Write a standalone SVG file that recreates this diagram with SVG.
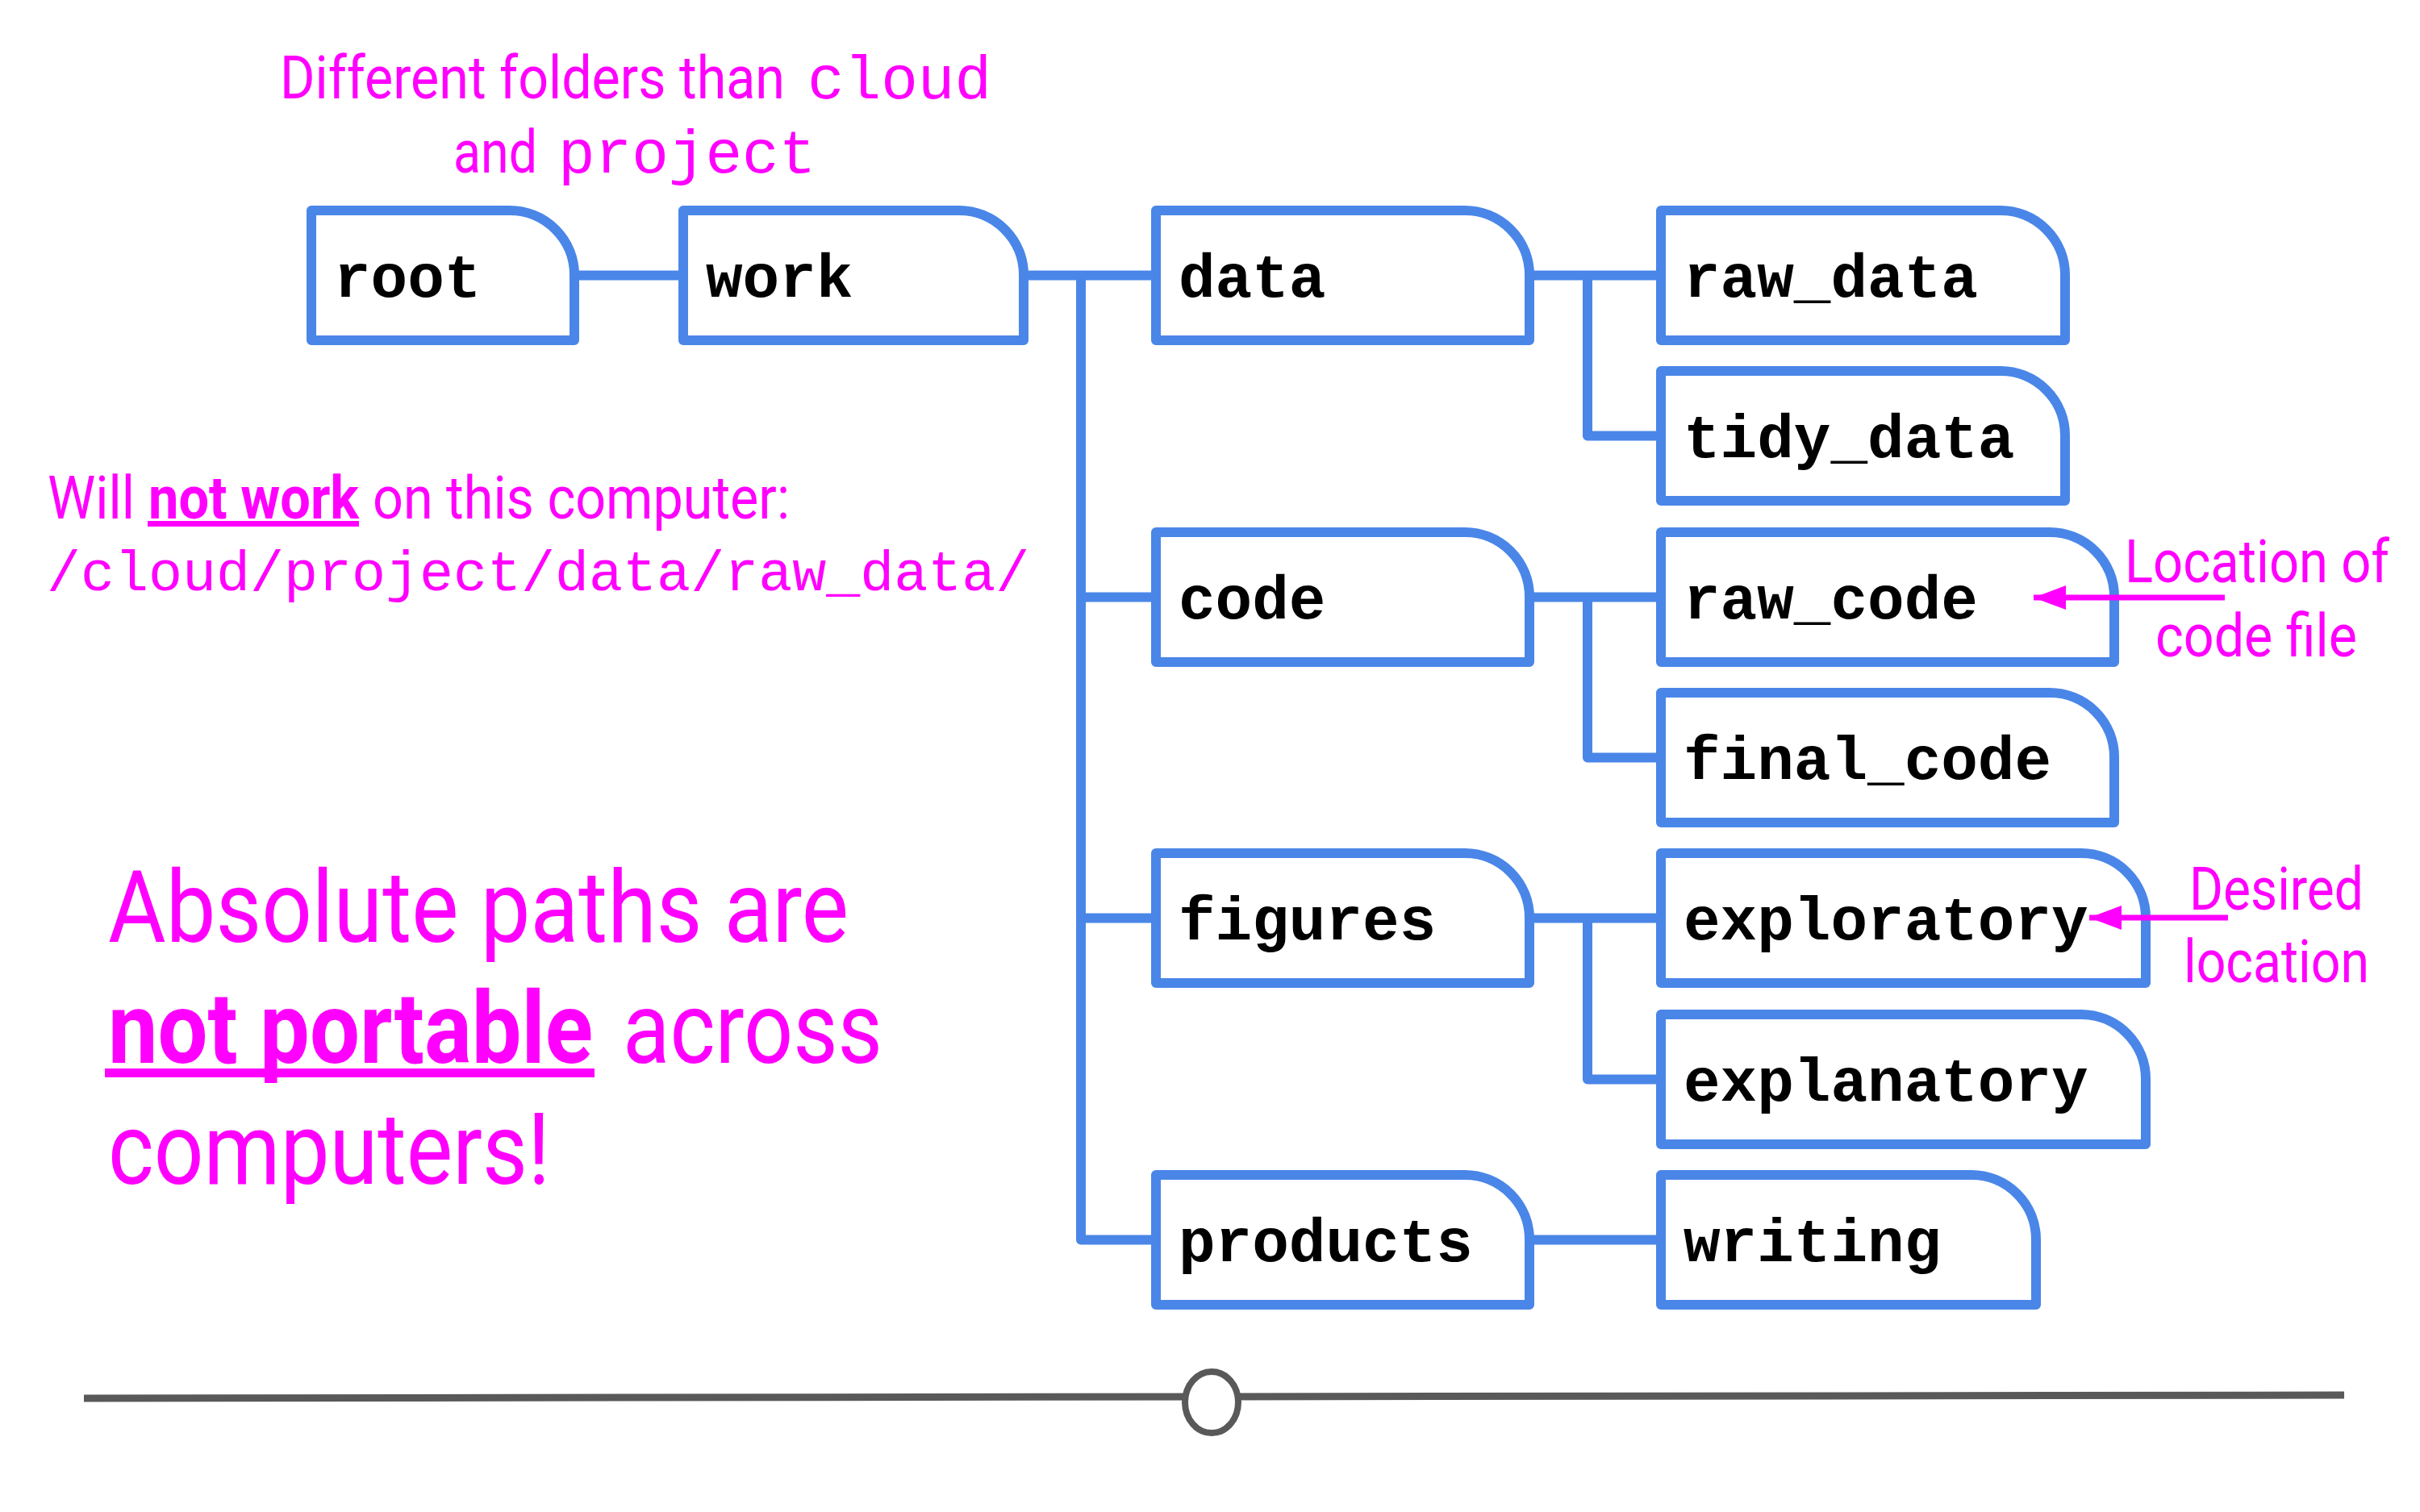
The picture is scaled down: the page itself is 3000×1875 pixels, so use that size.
<svg xmlns="http://www.w3.org/2000/svg" width="3000" height="1875" viewBox="0 0 3000 1875">
<style>
.box{fill:#fff;stroke:#4a86e8;stroke-width:12;stroke-linejoin:round}
.con{fill:none;stroke:#4a86e8;stroke-width:12;stroke-linejoin:round}
.lbl{font-family:"Liberation Mono","Courier New",monospace;font-weight:bold;font-size:76px;fill:#000}
.note{font-family:Roboto,"Liberation Sans",sans-serif;font-size:75px;fill:#ff00ff}
.nb{font-weight:bold}
.mono{font-family:"Liberation Mono","Courier New",monospace;fill:#ff00ff}
.big{font-size:125px}
.arr{stroke:#ff00ff;stroke-width:7;fill:none}
</style>
<defs>
<marker id="ah" markerUnits="userSpaceOnUse" viewBox="0 0 40 30" refX="40" refY="15" markerWidth="40" markerHeight="30" orient="auto">
<path d="M0,0 L40,15 L0,30 Z" fill="#ff00ff"/>
</marker>
</defs>
<rect width="3000" height="1875" fill="#fff"/>

<g id="connectors">
<path class="con" d="M712,341.5 H847"/>
<path class="con" d="M1269,341.5 H1433"/>
<path class="con" d="M1340,341.5 V1537.5 H1433"/>
<path class="con" d="M1340,740.5 H1433"/>
<path class="con" d="M1340,1138.5 H1433"/>
<path class="con" d="M1896,341.5 H2059"/>
<path class="con" d="M1968,341.5 V540.5 H2059"/>
<path class="con" d="M1896,740.5 H2059"/>
<path class="con" d="M1968,740.5 V939.5 H2059"/>
<path class="con" d="M1896,1138.5 H2059"/>
<path class="con" d="M1968,1138.5 V1338.5 H2059"/>
<path class="con" d="M1896,1537.5 H2059"/>
</g>

<g id="root"><path class="box" d="M386,261 H632 A80,80 0 0 1 712,341 V422 H386 Z"/><text class="lbl" x="414" y="368">root</text></g>
<g id="work"><path class="box" d="M847,261 H1189 A80,80 0 0 1 1269,341 V422 H847 Z"/><text class="lbl" x="875" y="368">work</text></g>
<g id="data"><path class="box" d="M1433,261 H1816 A80,80 0 0 1 1896,341 V422 H1433 Z"/><text class="lbl" x="1461" y="368">data</text></g>
<g id="raw_data"><path class="box" d="M2059,261 H2480 A80,80 0 0 1 2560,341 V422 H2059 Z"/><text class="lbl" x="2087" y="368">raw_data</text></g>
<g id="tidy_data"><path class="box" d="M2059,460 H2480 A80,80 0 0 1 2560,540 V621 H2059 Z"/><text class="lbl" x="2087" y="567">tidy_data</text></g>
<g id="code"><path class="box" d="M1433,660 H1816 A80,80 0 0 1 1896,740 V821 H1433 Z"/><text class="lbl" x="1461" y="767">code</text></g>
<g id="raw_code"><path class="box" d="M2059,660 H2541 A80,80 0 0 1 2621,740 V821 H2059 Z"/><text class="lbl" x="2087" y="767">raw_code</text></g>
<g id="final_code"><path class="box" d="M2059,859 H2541 A80,80 0 0 1 2621,939 V1020 H2059 Z"/><text class="lbl" x="2087" y="966">final_code</text></g>
<g id="figures"><path class="box" d="M1433,1058 H1816 A80,80 0 0 1 1896,1138 V1219 H1433 Z"/><text class="lbl" x="1461" y="1165">figures</text></g>
<g id="exploratory"><path class="box" d="M2059,1058 H2580 A80,80 0 0 1 2660,1138 V1219 H2059 Z"/><text class="lbl" x="2087" y="1165">exploratory</text></g>
<g id="explanatory"><path class="box" d="M2059,1258 H2580 A80,80 0 0 1 2660,1338 V1419 H2059 Z"/><text class="lbl" x="2087" y="1365">explanatory</text></g>
<g id="products"><path class="box" d="M1433,1457 H1816 A80,80 0 0 1 1896,1537 V1618 H1433 Z"/><text class="lbl" x="1461" y="1564">products</text></g>
<g id="writing"><path class="box" d="M2059,1457 H2444 A80,80 0 0 1 2524,1537 V1618 H2059 Z"/><text class="lbl" x="2087" y="1564">writing</text></g>

<g id="note-top">
<text class="note" x="347" y="122" textLength="626" lengthAdjust="spacingAndGlyphs">Different folders than</text>
<text class="mono" x="1001" y="122" font-size="76">cloud</text>
<text class="note" x="562" y="214" textLength="104" lengthAdjust="spacingAndGlyphs">and</text>
<text class="mono" x="692" y="214" font-size="76">project</text>
</g>

<g id="note-path">
<text class="note" x="59" y="643" textLength="108" lengthAdjust="spacingAndGlyphs">Will</text>
<text class="note nb" x="184" y="643" textLength="261" lengthAdjust="spacingAndGlyphs">not work</text>
<rect x="183" y="646" width="262" height="7" fill="#ff00ff"/>
<text class="note" x="462" y="643" textLength="517" lengthAdjust="spacingAndGlyphs">on this computer:</text>
<text class="mono" x="58" y="732" font-size="70">/cloud/project/data/raw_data/</text>
</g>

<g id="note-big">
<text class="note big" x="134" y="1168" textLength="918" lengthAdjust="spacingAndGlyphs">Absolute paths are</text>
<text class="note big nb" x="134" y="1318" textLength="601" lengthAdjust="spacingAndGlyphs">not portable</text>
<rect x="130" y="1325" width="607" height="11" fill="#ff00ff"/>
<text class="note big" x="772" y="1318" textLength="322" lengthAdjust="spacingAndGlyphs">across</text>
<text class="note big" x="134" y="1468" textLength="548" lengthAdjust="spacingAndGlyphs">computers!</text>
</g>

<g id="note-location">
<text class="note" x="2634" y="722" textLength="328" lengthAdjust="spacingAndGlyphs">Location of</text>
<text class="note" x="2672" y="814" textLength="250" lengthAdjust="spacingAndGlyphs">code file</text>
<path class="arr" d="M2758,741 H2521" marker-end="url(#ah)"/>
</g>

<g id="note-desired">
<text class="note" x="2714" y="1128" textLength="216" lengthAdjust="spacingAndGlyphs">Desired</text>
<text class="note" x="2707" y="1218" textLength="230" lengthAdjust="spacingAndGlyphs">location</text>
<path class="arr" d="M2762,1138 H2590" marker-end="url(#ah)"/>
</g>

<g id="slider">
<path d="M104,1734 L2906,1730" stroke="#595959" stroke-width="9" fill="none"/>
<ellipse cx="1502" cy="1739" rx="33" ry="38" fill="#fff" stroke="#595959" stroke-width="8"/>
</g>
</svg>
